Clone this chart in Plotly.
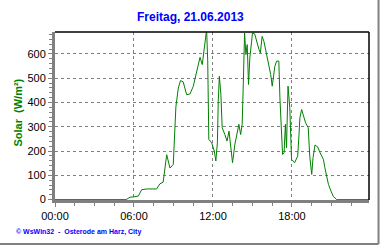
import plotly.graph_objects as go

DAY = "2013-06-21"
times = ["00:00", "05:24", "05:33", "05:42", "06:04", "06:20", "06:35", "07:00", "07:43", "07:58",
         "08:13", "08:29", "08:44", "08:59", "09:11", "09:22", "09:32", "09:44", "10:00", "10:15",
         "10:30", "10:46", "11:01", "11:11", "11:19", "11:26", "11:31", "11:36", "11:38", "11:41",
         "11:54", "12:06", "12:13", "12:20", "12:24", "12:29", "12:36", "12:42", "12:54", "13:04",
         "13:13", "13:20", "13:29", "13:40", "13:48", "13:58", "14:06", "14:13", "14:18", "14:24",
         "14:30", "14:36", "14:42", "14:48", "14:56", "15:00", "15:10", "15:18", "15:30", "15:36",
         "15:44", "15:52", "16:01", "16:12", "16:23", "16:30", "16:35", "16:42", "16:50", "17:00",
         "17:05", "17:12", "17:17", "17:24", "17:30", "17:35", "17:40", "17:42", "17:50", "17:58",
         "18:12", "18:26", "18:32", "18:36", "18:44", "18:52", "19:02", "19:14", "19:21", "19:30",
         "19:36", "19:45", "19:57", "20:08", "20:23", "20:30", "20:38", "20:46", "20:58", "21:08",
         "21:24", "23:51"]
solar = [0, 0, 5, 10, 12, 15, 41, 44, 44, 65,
         72, 185, 130, 145, 383, 459, 490, 485, 432, 435,
         466, 527, 586, 556, 625, 666, 700, 570, 392, 248,
         234, 200, 159, 234, 405, 508, 433, 296, 268, 241,
         282, 214, 152, 229, 268, 310, 268, 310, 474, 686,
         597, 638, 474, 584, 652, 686, 682, 652, 617, 604,
         672, 652, 611, 556, 515, 467, 501, 549, 570, 570,
         419, 282, 186, 193, 310, 214, 337, 467, 378, 166,
         152, 179, 268, 337, 371, 344, 316, 296, 179, 104,
         173, 225, 217, 193, 166, 131, 97, 63, 35, 14,
         0, 0]

x_ticks = ["00:00", "06:00", "12:00", "18:00"]
y_ticks = [0, 100, 200, 300, 400, 500, 600]

title_text = "Freitag, 21.06.2013"
y_title = "Solar  (W/m²)"
footer = "© WsWin32  -  Osterode am Harz, City"

xs = [f"{DAY} {t}" for t in times]

fig = go.Figure()
fig.add_trace(go.Scatter(x=xs, y=solar, mode="lines",
                         line=dict(color="#008000", width=1), showlegend=False))

grid = dict(showgrid=True, gridcolor="#808080", gridwidth=1, griddash="3px,3px")
fig.update_xaxes(type="date",
                 range=[f"{DAY} 00:00", f"{DAY} 23:51"],
                 tickvals=[f"{DAY} {t}" for t in x_ticks], ticktext=x_ticks,
                 ticks="outside", ticklen=4, tickcolor="#808080", tickwidth=1,
                 showline=True, linecolor="#808080", linewidth=3, mirror=False,
                 minor=dict(dtick=5400000, tick0=f"{DAY} 00:00", ticks="outside",
                            ticklen=3, tickcolor="#808080", showgrid=False),
                 tickfont=dict(family="Liberation Sans, Arial", size=11, color="black"),
                 zeroline=False, layer="below traces", **grid)
fig.update_yaxes(range=[-1.5, 690],
                 tickvals=y_ticks,
                 ticks="outside", ticklen=4, tickcolor="#808080", tickwidth=1,
                 showline=True, linecolor="#808080", linewidth=3, mirror=False,
                 minor=dict(dtick=20, tick0=0, ticks="outside", ticklen=3,
                            tickcolor="#808080", showgrid=False),
                 tickfont=dict(family="Liberation Sans, Arial", size=11, color="black"),
                 zeroline=False, layer="below traces", **grid)

# Black top/right frame and grey outer border
fig.add_shape(type="line", xref="paper", yref="paper", x0=0, x1=1, y0=1, y1=1,
              line=dict(color="black", width=1.5))
fig.add_shape(type="line", xref="paper", yref="paper", x0=1, x1=1, y0=0, y1=1,
              line=dict(color="black", width=1.5))
fig.add_shape(type="line", xref="paper", yref="paper", x0=1.0303, x1=1.0303, y0=-0.262, y1=1.2,
              line=dict(color="#808080", width=2))
fig.add_shape(type="line", xref="paper", yref="paper", x0=-0.2, x1=1.0303, y0=-0.262, y1=-0.262,
              line=dict(color="#808080", width=2))

fig.add_annotation(text=f"<b>{title_text}</b>", xref="paper", yref="paper",
                   x=0.43, y=1.09, xanchor="center", yanchor="middle", showarrow=False,
                   font=dict(family="Liberation Sans, Arial", size=12, color="#0000FF"))
fig.add_annotation(text=f"<b>{y_title}</b>", xref="paper", yref="paper",
                   x=-0.118, y=0.52, xanchor="center", yanchor="middle", showarrow=False,
                   textangle=-90,
                   font=dict(family="Liberation Sans, Arial", size=11, color="#008000"))
fig.add_annotation(text=f"<b>{footer}</b>", xref="paper", yref="paper",
                   x=-0.13, y=-0.19, xanchor="left", yanchor="middle", showarrow=False,
                   font=dict(family="Liberation Sans, Arial", size=7, color="#0000FF"))

fig.update_layout(width=380, height=245,
                  margin=dict(l=55, r=11, t=32, b=45),
                  paper_bgcolor="white", plot_bgcolor="white")

fig.write_html("out.html")
